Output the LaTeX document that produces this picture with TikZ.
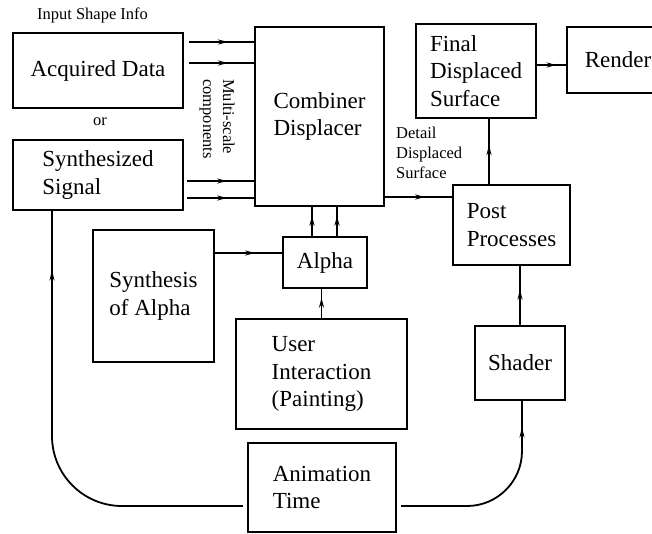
\documentclass[tikz,border=0pt]{standalone}
\usepackage{fontspec}
\setmainfont{Liberation Serif}
\usetikzlibrary{arrows.meta,calc,decorations.markings,positioning}

\begin{document}
\begin{tikzpicture}[x=1pt,y=-1pt,
  box/.style={draw,line width=2.4pt,inner sep=0pt,align=left,font=\fontsize{23}{27.5}\selectfont},
  flow/.style={line width=1.8pt},
  midarrow/.style={postaction={decorate,decoration={markings,mark=at position #1 with {\arrow{Stealth[length=10pt,width=5pt]}}}}},
  midarrow/.default=0.6,
  lbl/.style={align=left,inner sep=0pt,font=\fontsize{16.5}{20}\selectfont}]
\useasboundingbox (0,0) rectangle (652,534);
% boxes
\node[box,minimum width=170pt,minimum height=75pt] (acq) at (98,70.5) {Acquired Data};
\node[box,minimum width=170pt,minimum height=70pt] (syn) at (98,175) {Synthesized\\Signal};
\node[box,minimum width=129pt,minimum height=179pt] (comb) at (319.5,116.5) {Combiner\\Displacer};
\node[box,minimum width=120pt,minimum height=94pt] (final) at (476,71) {Final\\Displaced\\Surface};
\node[box,minimum width=102pt,minimum height=66pt] (render) at (618,60) {Render};
\node[box,minimum width=117pt,minimum height=80pt] (post) at (511.5,225) {Post\\Processes};
\node[box,minimum width=84pt,minimum height=51pt] (alpha) at (325,262.5) {Alpha};
\node[box,minimum width=121pt,minimum height=132pt] (synalpha) at (153.5,296) {Synthesis\\of Alpha};
\node[box,minimum width=171pt,minimum height=110pt] (user) at (321.5,374) {User\\Interaction\\(Painting)};
\node[box,minimum width=148pt,minimum height=89pt] (anim) at (322,487.5) {Animation\\Time};
\node[box,minimum width=90pt,minimum height=74pt] (shader) at (520,363) {Shader};
% labels
\node[lbl] (input) at (92.5,15) {Input Shape Info};
\node[lbl] (or) at (100,122) {or};
\node[lbl,rotate=-90] (multi) at (217,119) {Multi-scale\\components};
\node[lbl,anchor=north west] (detail) at (396,127) {Detail\\Displaced\\Surface};
% inputs into the combiner
\coordinate (a1) at ([xshift=5,yshift=28.5]acq.east);
\coordinate (a2) at ([xshift=5,yshift=7.5]acq.east);
\coordinate (s1) at ([xshift=3,yshift=-6]syn.east);
\coordinate (s2) at ([xshift=3,yshift=-23]syn.east);
\foreach \c in {a1,a2,s1,s2}
  \draw[flow,midarrow] (\c) -- (\c -| comb.west);
% combiner to output
\coordinate (c1) at ([yshift=-80.5]comb.east);
\draw[flow,midarrow] (c1) -- (c1 -| post.west);
\coordinate (p1) at ([xshift=-22.5]post.north);
\draw[flow,midarrow] (p1) -- (p1 |- final.south);
\coordinate (f1) at ([yshift=6]final.east);
\draw[flow,midarrow=0.68] (f1) -- (f1 -| render.west);
% alpha
\coordinate (al1) at ([xshift=-13]alpha.north);
\coordinate (al2) at ([xshift=12]alpha.north);
\foreach \c in {al1,al2}
  \draw[flow,midarrow=0.7] (\c) -- (\c |- comb.south);
\coordinate (sa1) at ([yshift=43]synalpha.east);
\draw[flow,midarrow] (sa1) -- (sa1 -| alpha.west);
\draw[flow,midarrow=0.7] (user.north) -- (user.north |- alpha.south);
% animation time
\coordinate (t1) at ([xshift=-4,yshift=-18.5]anim.west);
\coordinate (t2) at ([xshift=4,yshift=-18.5]anim.east);
\draw[flow,midarrow=0.87,rounded corners=70] (t1) -| ([xshift=-46]syn.south);
\draw[flow,midarrow=0.87,rounded corners=55] (t2) -| ([xshift=2]shader.south);
\draw[flow,midarrow] (shader.north) -- (shader.north |- post.south);
\end{tikzpicture}
\end{document}
